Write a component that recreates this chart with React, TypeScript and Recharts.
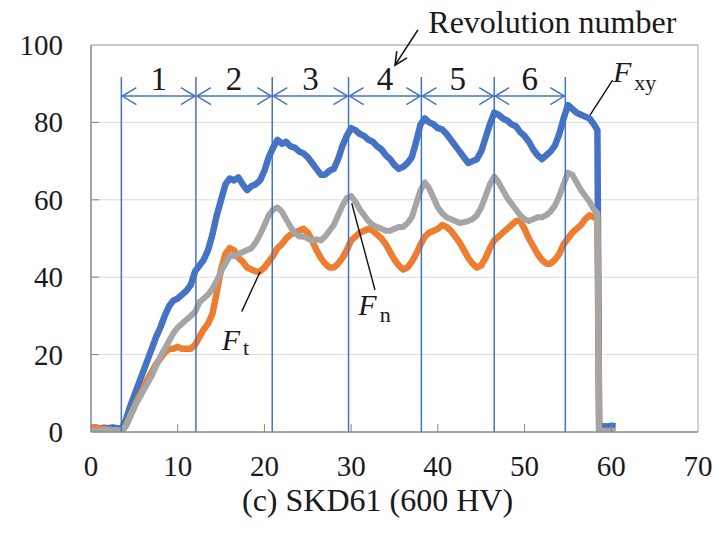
import React from 'react';
import {
  LineChart,
  Line,
  XAxis,
  YAxis,
  CartesianGrid,
  ReferenceLine,
  ReferenceDot,
  ReferenceArea,
} from 'recharts';

const TXT: React.CSSProperties = { fontFamily: 'Liberation Serif' };

// Sliding distance (x) sample positions
const X_VALUES = [
  0, 0.5, 1, 1.5, 2, 2.5, 3, 3.5, 4, 4.5,
  5, 5.5, 6, 6.5, 7, 7.5, 8, 8.5, 9, 9.5,
  10, 10.5, 11, 11.5, 12, 12.5, 13, 13.5, 14, 14.5,
  15, 15.5, 16, 16.5, 17, 17.5, 18, 18.5, 19, 19.5,
  20, 20.5, 21, 21.5, 22, 22.5, 23, 23.5, 24, 24.5,
  25, 25.5, 26, 26.5, 27, 27.5, 28, 28.5, 29, 29.5,
  30, 30.5, 31, 31.5, 32, 32.5, 33, 33.5, 34, 34.5,
  35, 35.5, 36, 36.5, 37, 37.5, 38, 38.5, 39, 39.5,
  40, 40.5, 41, 41.5, 42, 42.5, 43, 43.5, 44, 44.5,
  45, 45.5, 46, 46.5, 47, 47.5, 48, 48.5, 49, 49.5,
  50, 50.5, 51, 51.5, 52, 52.5, 53, 53.5, 54, 54.5,
  55, 55.5, 56, 56.5, 57, 57.5, 58,
  58.4, 58.6, 59, 59.5, 60, 60.5,
];

// F_xy (blue)
const FXY = [
  1.0, 1.2, 0.9, 1.1, 1.0, 1.2, 1.0, 0.8, 3.0, 6.5,
  9.5, 12.5, 15.5, 18.5, 21.5, 24.5, 27.0, 30.0, 32.5, 34.0,
  34.5, 35.5, 36.5, 38.0, 41.5, 43.0, 44.5, 47.0, 51.0, 56.0,
  60.0, 64.0, 65.5, 65.0, 65.8, 64.0, 62.5, 63.5, 64.0, 65.0,
  67.5, 71.0, 73.5, 75.5, 74.5, 75.0, 73.8, 73.5, 72.5, 72.0,
  71.0, 69.5, 68.0, 66.5, 66.5, 67.5, 68.0, 70.5, 74.0, 76.5,
  78.5, 78.0, 77.0, 76.5, 75.5, 75.0, 73.8, 73.0, 71.5, 70.5,
  69.0, 68.0, 68.5, 69.5, 71.0, 75.0, 79.5, 81.0, 80.0, 79.5,
  78.5, 78.2, 77.0, 75.5, 74.0, 72.5, 71.0, 69.5, 70.0, 70.5,
  72.5, 76.0, 79.5, 82.5, 82.0, 81.0, 80.5, 79.5, 79.0, 77.5,
  76.5, 75.0, 73.0, 71.5, 70.5, 71.5, 72.5, 74.0, 77.0, 81.0,
  84.5, 83.5, 82.5, 82.0, 81.5, 81.0, 79.5,
  78.0, 0.8, 1.5, 1.4, 1.6, 1.5,
];

// F_t (orange)
const FT = [
  1.0, 1.2, 0.9, 0.8, 0.6, 0.4, 0.3, 0.2, 1.5, 4.0,
  6.5, 9.0, 11.0, 13.5, 15.5, 17.5, 19.0, 20.5, 21.5, 21.5,
  22.0, 21.5, 21.5, 21.5, 22.5, 24.5, 26.5, 28.0, 30.5, 36.0,
  42.0, 46.0, 47.5, 47.0, 45.0, 44.0, 42.5, 42.0, 41.5, 41.5,
  42.5, 44.0, 45.5, 47.5, 48.5, 50.0, 51.0, 51.5, 52.0, 52.5,
  51.5, 49.5, 47.0, 45.0, 43.5, 42.5, 42.5, 43.5, 45.0, 47.0,
  49.5, 50.5, 51.5, 52.0, 52.5, 52.0, 51.0, 50.0, 48.5, 46.5,
  44.5, 43.0, 42.0, 42.5, 44.0, 46.0, 48.5, 50.5, 51.5, 52.0,
  52.5, 53.5, 53.0, 52.0, 50.5, 49.0, 47.0, 45.0, 43.5, 42.5,
  43.0, 45.0, 47.5, 49.5, 50.5, 51.5, 52.5, 53.5, 54.5, 54.5,
  52.5, 50.0, 48.0, 46.0, 44.5, 43.5, 43.5, 44.5, 46.0, 48.5,
  50.0, 51.5, 52.5, 53.5, 55.0, 56.0, 55.5,
  55.0, 0.3, 0.0, null, null, null,
];

// F_n (gray)
const FN = [
  0.5, 0.3, 0.5, 0.4, 0.6, 0.5, 0.5, 0.3, 1.5, 4.0,
  6.5, 8.5, 10.5, 12.5, 14.5, 17.0, 19.5, 21.5, 23.5, 25.5,
  27.0, 28.0, 29.0, 30.0, 31.0, 33.5, 34.5, 35.5, 37.0, 39.0,
  41.5, 43.5, 45.5, 45.5, 46.0, 46.5, 47.0, 47.5, 49.0, 51.0,
  53.5, 56.0, 57.5, 58.0, 57.0, 55.0, 53.0, 51.5, 50.5, 50.5,
  50.0, 49.5, 49.8, 49.5, 50.5, 52.0, 53.5, 56.0, 58.5, 60.5,
  61.0, 59.5, 57.5, 56.0, 54.5, 53.5, 53.0, 52.5, 52.0, 52.0,
  52.5, 53.0, 53.0, 54.0, 55.5, 59.0, 62.5, 64.5, 63.0, 60.5,
  58.0, 56.5, 55.5, 55.0, 54.5, 54.0, 54.2, 54.5, 55.0, 56.0,
  58.0, 61.0, 64.0, 66.0, 64.5, 62.5, 60.5, 59.0, 57.5, 56.0,
  55.0, 54.5, 55.0, 55.5, 55.5, 56.0, 57.0, 58.5, 61.0, 64.0,
  67.0, 66.5, 64.5, 62.5, 61.0, 59.5, 57.5,
  56.5, 0.5, 0.3, 0.3, 0.4, 0.3,
];

const X_TICKS = [0, 10, 20, 30, 40, 50, 60, 70];
const Y_TICKS = [0, 20, 40, 60, 80, 100];

// Revolution boundaries and labels
const REV_BOUNDS = [3.5, 12.1, 20.9, 29.7, 38.1, 46.5, 54.7];
const REV_LABELS = ['1', '2', '3', '4', '5', '6'];
const REV_TOP = 91.7;
const REV_ARROW_Y = 86.8;

const TITLE = '(c) SKD61 (600 HV)';
const REV_TEXT = 'Revolution number';

// annotation anchors (data coordinates)
const REV_TEXT_POS = { x: 38.9, y: 103.1 };
const REV_POINTER = { from: { x: 37.7, y: 103.9 }, to: { x: 35.06, y: 94.8 } };
const SERIES_LABELS = [
  { main: 'F', sub: 'xy', x: 60.2, y: 90.4, dy: 8, leader: [{ x: 60.15, y: 90.9 }, { x: 57.55, y: 81.9 }] },
  { main: 'F', sub: 't', x: 15.08, y: 21.2, dy: 5, leader: [{ x: 17.38, y: 31.1 }, { x: 19.5, y: 41.4 }] },
  { main: 'F', sub: 'n', x: 30.83, y: 30.2, dy: 7, leader: [{ x: 32.75, y: 36.7 }, { x: 30.07, y: 59.1 }] },
];

const data = X_VALUES.map((x, i) => ({ x, fxy: FXY[i], ft: FT[i], fn: FN[i] }));

const BLUE = '#4472C4';
const ORANGE = '#ED7D31';
const GRAY = '#A5A5A5';
const AXIS = '#868686';

const XTick = (props: any) => {
  const { x, y, payload } = props;
  return (
    <g>
      {payload.value > 0 && payload.value < 70 ? (
        <line x1={x} x2={x} y1={y - 8} y2={y} stroke={AXIS} strokeWidth={1} />
      ) : null}
      <text x={x} y={y + 44} textAnchor="middle" style={TXT} fontSize={29} fill="#1a1a1a">
        {payload.value}
      </text>
    </g>
  );
};

const YTick = (props: any) => {
  const { x, y, payload } = props;
  return (
    <g>
      {payload.value > 0 && payload.value < 100 ? (
        <line x1={x} x2={x + 8} y1={y} y2={y} stroke={AXIS} strokeWidth={1} />
      ) : null}
      <text x={x - 28} y={y + 10} textAnchor="end" style={TXT} fontSize={29} fill="#1a1a1a">
        {payload.value}
      </text>
    </g>
  );
};

const makeRevArrow = (label: string) => (props: any) => {
  const { x1, y1, x2 } = props;
  const a = 1;
  const hx = 14;
  const hy = 8.5;
  const l = Math.min(x1, x2) + a;
  const r = Math.max(x1, x2) - a;
  const y = y1;
  return (
    <g>
      <line x1={l} y1={y} x2={r} y2={y} stroke={BLUE} strokeWidth={1.5} />
      <polyline points={`${l + hx},${y - hy} ${l},${y} ${l + hx},${y + hy}`} fill="none" stroke={BLUE} strokeWidth={1.5} />
      <polyline points={`${r - hx},${y - hy} ${r},${y} ${r - hx},${y + hy}`} fill="none" stroke={BLUE} strokeWidth={1.5} />
      <text x={(l + r) / 2} y={y - 6} textAnchor="middle" style={TXT} fontSize={33} fill="#1a1a1a">
        {label}
      </text>
    </g>
  );
};

const PointerShape = (props: any) => {
  const { x1, y1, x2, y2 } = props;
  const ang = Math.atan2(y2 - y1, x2 - x1);
  const len = 14;
  const spread = 0.45;
  const p1x = x2 - len * Math.cos(ang - spread);
  const p1y = y2 - len * Math.sin(ang - spread);
  const p2x = x2 - len * Math.cos(ang + spread);
  const p2y = y2 - len * Math.sin(ang + spread);
  return (
    <g>
      <line x1={x1} y1={y1} x2={x2} y2={y2} stroke="#111" strokeWidth={1.6} />
      <polyline points={`${p1x},${p1y} ${x2},${y2} ${p2x},${p2y}`} fill="none" stroke="#111" strokeWidth={1.6} />
    </g>
  );
};

const LeaderShape = (props: any) => {
  const { x1, y1, x2, y2 } = props;
  return <line x1={x1} y1={y1} x2={x2} y2={y2} stroke="#111" strokeWidth={1.4} />;
};

const makeTextShape = (content: (cx: number, cy: number) => React.ReactNode) => (props: any) => {
  const { cx, cy } = props;
  return <g>{content(cx, cy)}</g>;
};

const TitleLabel = (props: any) => {
  const vb = props.viewBox || {};
  const cx = vb.x + vb.width / 2 - 17;
  return (
    <text x={cx} y={vb.y + 79} textAnchor="middle" style={TXT} fontSize={32} fill="#1a1a1a">
      {TITLE}
    </text>
  );
};

export default function App() {
  return (
    <div style={{ position: 'absolute', left: 0, top: 0, width: 715, height: 534, background: '#fff' }}>
      <LineChart
        width={715}
        height={534}
        data={data}
        margin={{ top: 45, right: 17, bottom: 42, left: 0 }}
      >
        <CartesianGrid horizontal vertical={false} stroke="#d9d9d9" strokeWidth={1} />
        <XAxis
          type="number"
          dataKey="x"
          domain={[0, 70]}
          ticks={X_TICKS}
          height={60}
          tickSize={0}
          tickMargin={0}
          tickLine={false}
          axisLine={{ stroke: AXIS, strokeWidth: 1.2 }}
          tick={<XTick />}
          interval={0}
          allowDataOverflow
          label={<TitleLabel />}
        />
        <YAxis
          type="number"
          domain={[0, 100]}
          ticks={Y_TICKS}
          width={91}
          tickSize={0}
          tickMargin={0}
          tickLine={false}
          axisLine={{ stroke: AXIS, strokeWidth: 1.2 }}
          tick={<YTick />}
          interval={0}
          allowDataOverflow
        />
        <ReferenceArea x1={0} x2={70} y1={0} y2={100} fill="none" stroke="#a6a6a6" strokeWidth={1} />
        <Line
          dataKey="fxy"
          stroke={BLUE}
          strokeWidth={6.5}
          dot={false}
          type="linear"
          strokeLinejoin="round"
          isAnimationActive={false}
        />
        <Line
          dataKey="ft"
          stroke={ORANGE}
          strokeWidth={6.5}
          dot={false}
          type="linear"
          strokeLinejoin="round"
          isAnimationActive={false}
        />
        <Line
          dataKey="fn"
          stroke={GRAY}
          strokeWidth={6}
          dot={false}
          type="linear"
          strokeLinejoin="round"
          isAnimationActive={false}
        />
        {REV_BOUNDS.map((b, i) => (
          <ReferenceLine
            key={`v${i}`}
            segment={[{ x: b, y: 0 }, { x: b, y: REV_TOP }]}
            stroke={BLUE}
            strokeWidth={1.5}
          />
        ))}
        {REV_LABELS.map((lab, i) => (
          <ReferenceLine
            key={`a${i}`}
            segment={[{ x: REV_BOUNDS[i], y: REV_ARROW_Y }, { x: REV_BOUNDS[i + 1], y: REV_ARROW_Y }]}
            shape={makeRevArrow(lab)}
          />
        ))}
        <ReferenceLine
          segment={[REV_POINTER.from, REV_POINTER.to]}
          ifOverflow="visible"
          shape={PointerShape}
        />
        <ReferenceDot
          x={REV_TEXT_POS.x}
          y={REV_TEXT_POS.y}
          r={1}
          ifOverflow="visible"
          shape={makeTextShape((cx, cy) => (
            <text x={cx} y={cy} style={TXT} fontSize={32} fill="#1a1a1a">
              {REV_TEXT}
            </text>
          ))}
        />
        {SERIES_LABELS.map((s, i) => (
          <ReferenceLine
            key={`l${i}`}
            segment={s.leader}
            ifOverflow="visible"
            shape={LeaderShape}
          />
        ))}
        {SERIES_LABELS.map((s, i) => (
          <ReferenceDot
            key={`t${i}`}
            x={s.x}
            y={s.y}
            r={1}
            ifOverflow="visible"
            shape={makeTextShape((cx, cy) => (
              <text x={cx} y={cy} style={TXT} fill="#1a1a1a">
                <tspan fontStyle="italic" fontSize={30}>{s.main}</tspan>
                <tspan fontSize={22} dx={3} dy={s.dy}>{s.sub}</tspan>
              </text>
            ))}
          />
        ))}
      </LineChart>
    </div>
  );
}
